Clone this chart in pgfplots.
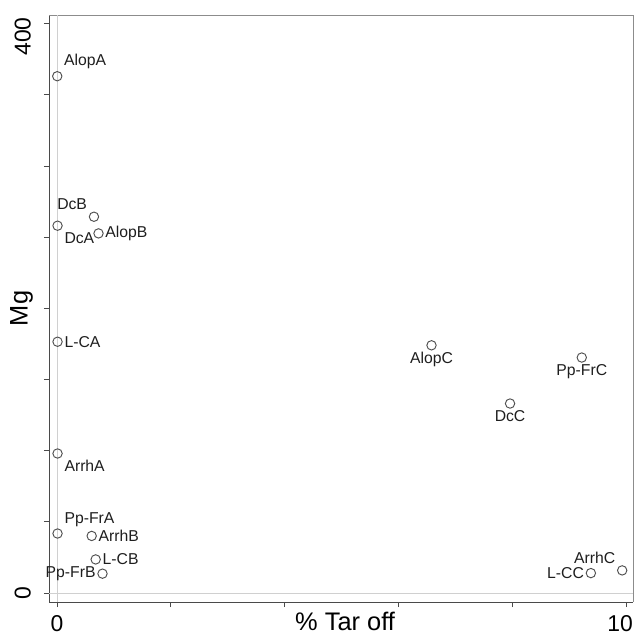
\documentclass[border=0pt]{standalone}
\usepackage{pgfplots}
\pgfplotsset{compat=1.18}
\usepackage{fontspec}
\setmainfont{Liberation Sans}
\definecolor{mk}{HTML}{505050}
\definecolor{lb}{HTML}{1E1E1E}
\definecolor{axd}{HTML}{4A4A4A}
\definecolor{axl}{HTML}{8C8C8C}
\definecolor{refl}{HTML}{D0D0D0}

\pgfplotsset{
  pts/.style={
    only marks,
    mark=o,
    mark size=4.7bp,
    mark options={mk, line width=0.95bp},
    point meta=explicit symbolic,
    nodes near coords,
    every node near coord/.append style={anchor=#1, inner sep=6.5bp, font=\fontsize{15.8}{18}\selectfont, text=lb},
  }
}

\begin{document}
\begin{tikzpicture}
\begin{axis}[
  name=ax,
  scale only axis,
  width=584bp, height=587bp,
  xmin=-0.14, xmax=10.12,
  ymin=-6.3, ymax=406,
  axis lines=left,
  axis line style={axd, line width=0.9bp, -},
  xtick={0,2,4,6,8},
  xticklabels={0,,,,},
  extra x ticks={10},
  extra x tick labels={10},
  extra x tick style={xticklabel style={anchor=north east, xshift=7bp}},
  ytick={0,50,100,150,200,250,300,350},
  yticklabels={0,,,,,,,},
  extra y ticks={400},
  extra y tick labels={400},
  extra y tick style={yticklabel style={xshift=-13bp}},
  tick align=outside,
  major tick length=5bp,
  tick style={axd, line width=0.8bp},
  tick label style={font=\fontsize{23}{27}\selectfont, text=black},
  /pgf/number format/assume math mode=true,
  yticklabel style={rotate=90, anchor=south, inner sep=0bp, yshift=13bp},
  xticklabel style={anchor=north, inner sep=0pt, yshift=-8bp},
  xlabel={\% Tar off},
  ylabel={Mg},
  label style={font=\fontsize{25.5}{29}\selectfont, text=black},
  xlabel style={at={(axis description cs:0.507,0)}, anchor=north, inner sep=0pt, yshift=-10bp},
  ylabel style={at={(axis description cs:-0.0274,0.5)}, rotate=0, anchor=south, inner sep=0pt},
  clip=false,
]
\draw[axl, line width=0.9bp] (rel axis cs:0,1) -- (rel axis cs:1,1) -- (rel axis cs:1,0);
\addplot[refl, line width=0.8bp, forget plot] coordinates {(0,-6.3) (0,406)};
\addplot[refl, line width=0.8bp, forget plot] coordinates {(-0.14,0) (10.12,0)};
\addplot[pts={south west}] coordinates {(0.005,363) [AlopA] (0.01,41.8) [Pp-FrA]};
\addplot[pts={south east}] coordinates {(0.65,264.3) [DcB] (9.93,15.9) [ArrhC]};
\addplot[pts={north west}] coordinates {(0.01,258) [DcA] (0.01,98) [ArrhA]};
\addplot[pts={west}] coordinates {(0.73,252.6) [AlopB] (0.01,176.5) [L-CA] (0.61,40.1) [ArrhB] (0.68,23.6) [L-CB]};
\addplot[pts={east}] coordinates {(0.80,13.6) [Pp-FrB] (9.38,14.0) [L-CC]};
\addplot[pts={north}] coordinates {(6.58,174) [AlopC] (9.22,165.4) [Pp-FrC] (7.96,133.1) [DcC]};
\end{axis}
\pgfresetboundingbox
\path[use as bounding box] ([shift={(-49bp,-37bp)}]ax.south west) rectangle ([shift={(1bp,15bp)}]ax.north east);
\end{tikzpicture}
\end{document}
